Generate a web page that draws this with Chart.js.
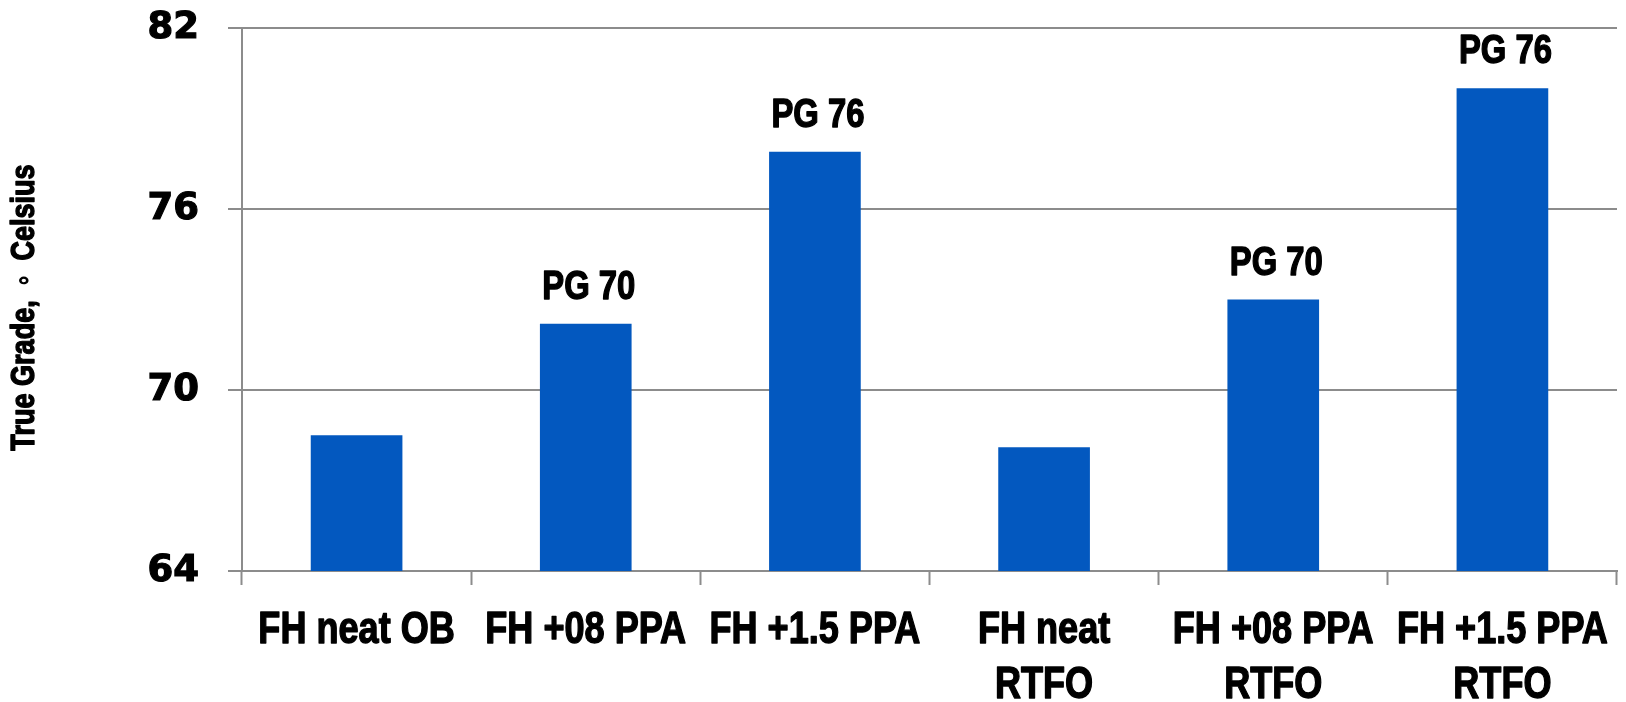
<!DOCTYPE html>
<html>
<head>
<meta charset="utf-8">
<script src="https://cdn.jsdelivr.net/npm/chart.js@4/dist/chart.umd.min.js"></script>
<style>
  html, body { margin: 0; padding: 0; background: #ffffff; }
  #wrap { width: 1626px; height: 702px; }
</style>
</head>
<body>
<div id="wrap"><canvas id="c" width="1626" height="702"></canvas></div>
<script>
const categories = [
  ["FH neat OB"],
  ["FH +08 PPA"],
  ["FH +1.5 PPA"],
  ["FH neat", "RTFO"],
  ["FH +08 PPA", "RTFO"],
  ["FH +1.5 PPA", "RTFO"]
];
const trueGrade = [68.5, 72.2, 77.9, 68.1, 73.0, 80.0];
const gradeLabels = ["", "PG 70", "PG 76", "", "PG 70", "PG 76"];
const yTicks = [64, 70, 76, 82];
const yTitle = "True Grade,  \u25E6  Celsius";

const SANS = "'Liberation Sans', Arial, sans-serif";
const NARROW_X = 0.82;   // horizontal squeeze to imitate a narrow face
const GRID = '#8c8c8c';
const BLUE = '#0358BF';

function narrowText(ctx, text, x, y, font, align) {
  ctx.save();
  ctx.translate(x, y);
  ctx.scale(NARROW_X, 1);
  ctx.font = font;
  ctx.textAlign = align || 'center';
  ctx.textBaseline = 'alphabetic';
  ctx.fillStyle = '#000000';
  ctx.strokeStyle = '#000000';
  ctx.lineWidth = 1.4;
  ctx.lineJoin = 'round';
  ctx.fillText(text, 0, 0);
  ctx.strokeText(text, 0, 0);
  ctx.restore();
}

const textPlugin = {
  id: 'narrowTexts',
  afterDatasetsDraw(chart) {
    const ctx = chart.ctx;
    const meta = chart.getDatasetMeta(0);
    meta.data.forEach((bar, i) => {
      const t = gradeLabels[i];
      if (t) narrowText(ctx, t, bar.x + 3, bar.y - 25, "bold 40px " + SANS);
    });
  },
  afterDraw(chart) {
    const ctx = chart.ctx;
    const xs = chart.scales.x;
    const base = xs.top + 72;
    categories.forEach((lines, i) => {
      const px = xs.getPixelForTick(i);
      lines.forEach((ln, j) => {
        narrowText(ctx, ln, px, base + j * 55, "bold 44px " + SANS);
      });
    });
    // y-axis title, rotated
    const ca = chart.chartArea;
    ctx.save();
    ctx.translate(34, (ca.top + ca.bottom) / 2 + 8);
    ctx.rotate(-Math.PI / 2);
    ctx.scale(NARROW_X, 1);
    ctx.font = "bold 33px " + SANS;
    ctx.textAlign = 'center';
    ctx.textBaseline = 'alphabetic';
    ctx.fillStyle = '#000000';
    ctx.strokeStyle = '#000000';
    ctx.lineWidth = 1.4;
    ctx.lineJoin = 'round';
    ctx.fillText(yTitle, 0, 0);
    ctx.strokeText(yTitle, 0, 0);
    ctx.restore();
  }
};

new Chart(document.getElementById('c'), {
  type: 'bar',
  data: {
    labels: categories,
    datasets: [{
      data: trueGrade,
      backgroundColor: BLUE,
      borderWidth: 0,
      barPercentage: 0.4,
      categoryPercentage: 1.0
    }]
  },
  options: {
    responsive: false,
    animation: false,
    events: [],
    layout: { padding: { top: 28, right: 9, left: 0, bottom: 0 } },
    plugins: {
      legend: { display: false },
      tooltip: { enabled: false }
    },
    scales: {
      x: {
        afterFit(scale) {
          scale.height = 131;
          scale.paddingLeft = 0; scale.paddingRight = 0;
        },
        grid: {
          display: true,
          drawOnChartArea: false,
          drawTicks: true,
          tickLength: 14,
          tickWidth: 2,
          color: GRID,
          offset: true
        },
        border: { display: true, color: GRID, width: 2 },
        ticks: { display: false, autoSkip: false, maxRotation: 0 }
      },
      y: {
        min: 64,
        max: 82,
        afterFit(scale) {
          scale.width = 242;
          scale.paddingTop = 0; scale.paddingBottom = 0;
        },
        afterBuildTicks(scale) { scale.ticks = yTicks.map(v => ({ value: v })); },
        grid: {
          color: GRID,
          lineWidth: 2,
          drawTicks: true,
          tickLength: 14
        },
        border: { display: true, color: GRID, width: 2 },
        ticks: {
          color: '#000000',
          padding: 29,
          textStrokeColor: '#000000',
          textStrokeWidth: 1.2,
          font: { family: "'DejaVu Sans', sans-serif", weight: 'bold', size: 37 }
        }
      }
    }
  },
  plugins: [textPlugin]
});
</script>
</body>
</html>
